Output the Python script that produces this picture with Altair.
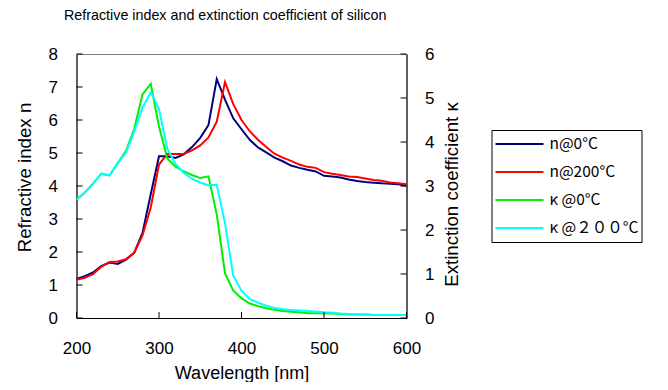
import altair as alt
import pandas as pd

# ---------------- data ----------------
wavelength = list(range(200, 601, 10))

n_0C = [1.18, 1.27, 1.38, 1.57, 1.68, 1.64, 1.77, 1.98, 2.58, 3.75,
        4.90, 4.90, 4.85, 4.96, 5.18, 5.46, 5.85, 7.24, 6.62, 6.05,
        5.72, 5.40, 5.17, 5.02, 4.86, 4.75, 4.62, 4.55, 4.49, 4.44,
        4.31, 4.29, 4.26, 4.20, 4.15, 4.12, 4.10, 4.08, 4.07, 4.05, 4.01]

n_200C = [1.16, 1.22, 1.33, 1.55, 1.70, 1.71, 1.78, 1.98, 2.50, 3.35,
          4.65, 4.97, 4.97, 4.97, 5.08, 5.23, 5.47, 5.95, 7.15, 6.48,
          6.00, 5.66, 5.40, 5.18, 4.98, 4.86, 4.76, 4.65, 4.58, 4.55,
          4.42, 4.37, 4.33, 4.29, 4.27, 4.23, 4.18, 4.16, 4.11, 4.08, 4.05]

k_0C = [2.69, 2.85, 3.05, 3.28, 3.24, 3.52, 3.80, 4.30, 5.08, 5.32,
        4.35, 3.63, 3.44, 3.33, 3.25, 3.18, 3.22, 2.35, 1.02, 0.62,
        0.45, 0.33, 0.27, 0.22, 0.19, 0.16, 0.14, 0.13, 0.11, 0.11,
        0.11, 0.10, 0.09, 0.08, 0.08, 0.08, 0.07, 0.07, 0.07, 0.07, 0.07]

k_200C = [2.69, 2.85, 3.05, 3.28, 3.24, 3.52, 3.76, 4.24, 4.78, 5.13,
          4.75, 3.85, 3.50, 3.30, 3.16, 3.08, 3.01, 3.03, 2.15, 0.96,
          0.62, 0.43, 0.35, 0.28, 0.23, 0.20, 0.18, 0.17, 0.16, 0.15,
          0.13, 0.12, 0.10, 0.09, 0.08, 0.08, 0.07, 0.07, 0.07, 0.07, 0.07]

series_labels = ["n@0°C", "n@200°C", "κ @0°C", "κ @２００°C"]
series_colors = ["#000080", "#FF0000", "#00EE00", "#00FFFF"]

wl_ticks = [200, 300, 400, 500, 600]
n_ticks = [0, 1, 2, 3, 4, 5, 6, 7, 8]
k_ticks = [0, 1, 2, 3, 4, 5, 6]

title_text = "Refractive index and extinction coefficient of silicon"

# ---------------- tables ----------------
df_n = pd.concat([
    pd.DataFrame({"wl": wavelength, "val": n_0C, "series": series_labels[0]}),
    pd.DataFrame({"wl": wavelength, "val": n_200C, "series": series_labels[1]}),
])
df_k = pd.concat([
    pd.DataFrame({"wl": wavelength, "val": k_0C, "series": series_labels[2]}),
    pd.DataFrame({"wl": wavelength, "val": k_200C, "series": series_labels[3]}),
])
df_nt = pd.DataFrame({"val": n_ticks})
df_kt = pd.DataFrame({"val": k_ticks})
df_xt = pd.DataFrame({"wl": wl_ticks})

W, H = 330, 264
TICK = 6
AX_FONT = "Liberation Sans"

x_axis = alt.Axis(values=wl_ticks, ticks=False, grid=False, domainColor="black",
                  labelFontSize=17, labelFont=AX_FONT, labelColor="black",
                  labelPadding=22, labelFlush=False, labelOverlap=False,
                  title="Wavelength [nm]", titleFontSize=18,
                  titleFont=AX_FONT, titleFontWeight="normal", titleColor="black",
                  titlePadding=8)
x_enc = alt.X("wl:Q", scale=alt.Scale(domain=[200, 600], nice=False), axis=x_axis)

n_axis = alt.Axis(orient="left", values=n_ticks, ticks=False, grid=False,
                  domainColor="black", labelFontSize=17, labelFont=AX_FONT,
                  labelColor="black", labelPadding=19, labelFlush=False,
                  labelOverlap=False, title="Refractive index n",
                  titleFontSize=18.7, titleFont=AX_FONT, titleFontWeight="normal",
                  titleColor="black", titlePadding=14, titleAngle=270,
                  titleY=123)
n_y = alt.Y("val:Q", scale=alt.Scale(domain=[0, 8], nice=False), axis=n_axis)

k_axis = alt.Axis(orient="right", values=k_ticks, ticks=False, grid=False,
                  domainColor="black", labelFontSize=17, labelFont=AX_FONT,
                  labelColor="black", labelPadding=18, labelFlush=False,
                  labelOverlap=False,
                  title="Extinction coefficient κ", titleFontSize=18.7,
                  titleFont=AX_FONT, titleFontWeight="normal", titleColor="black",
                  titlePadding=9, titleAngle=270, titleBaseline="top",
                  titleY=140)
k_y = alt.Y("val:Q", scale=alt.Scale(domain=[0, 6], nice=False), axis=k_axis)

color_enc = alt.Color(
    "series:N",
    scale=alt.Scale(domain=series_labels, range=series_colors),
    legend=alt.Legend(orient="none", legendX=415, legendY=76, title=None,
                      symbolType="stroke", symbolSize=2304, symbolStrokeWidth=2,
                      labelFont="Noto Sans CJK JP", labelFontSize=15.5,
                      labelColor="black", labelOffset=5, clipHeight=22,
                      rowPadding=6, padding=3, strokeColor="black",
                      fillColor="white", labelLimit=200),
)

n_lines = alt.Chart(df_n).mark_line(strokeWidth=2, clip=True).encode(
    x=x_enc, y=n_y, color=color_enc, detail="series:N")
n_tickmarks = alt.Chart(df_nt).mark_rule(color="black", strokeWidth=1).encode(
    y=n_y, x=alt.value(0), x2=alt.value(TICK))
n_layer = alt.layer(n_tickmarks, n_lines)

k_lines = alt.Chart(df_k).mark_line(strokeWidth=2, clip=True).encode(
    x=x_enc, y=k_y, color=color_enc, detail="series:N")
k_tickmarks = alt.Chart(df_kt).mark_rule(color="black", strokeWidth=1).encode(
    y=k_y, x=alt.value(W), x2=alt.value(W - TICK))
k_layer = alt.layer(k_tickmarks, k_lines)

x_tickmarks = alt.Chart(df_xt).mark_rule(color="black", strokeWidth=1).encode(
    x=x_enc, y=alt.value(H), y2=alt.value(H - TICK))

chart = alt.layer(n_layer, k_layer, x_tickmarks).resolve_scale(
    y="independent"
).properties(
    width=W, height=H,
    autosize=alt.AutoSizeParams(type="none"),
    padding={"left": 68.5, "top": 46, "right": 253.5, "bottom": 64},
    title=alt.TitleParams(text=title_text, anchor="start", frame="group",
                          dx=-12.5, fontSize=14.3, font=AX_FONT,
                          fontWeight="normal", color="black", offset=22),
).configure_view(stroke="#808080", strokeWidth=1)

chart.save("out.html", embed_options={"renderer": "svg", "actions": False})
